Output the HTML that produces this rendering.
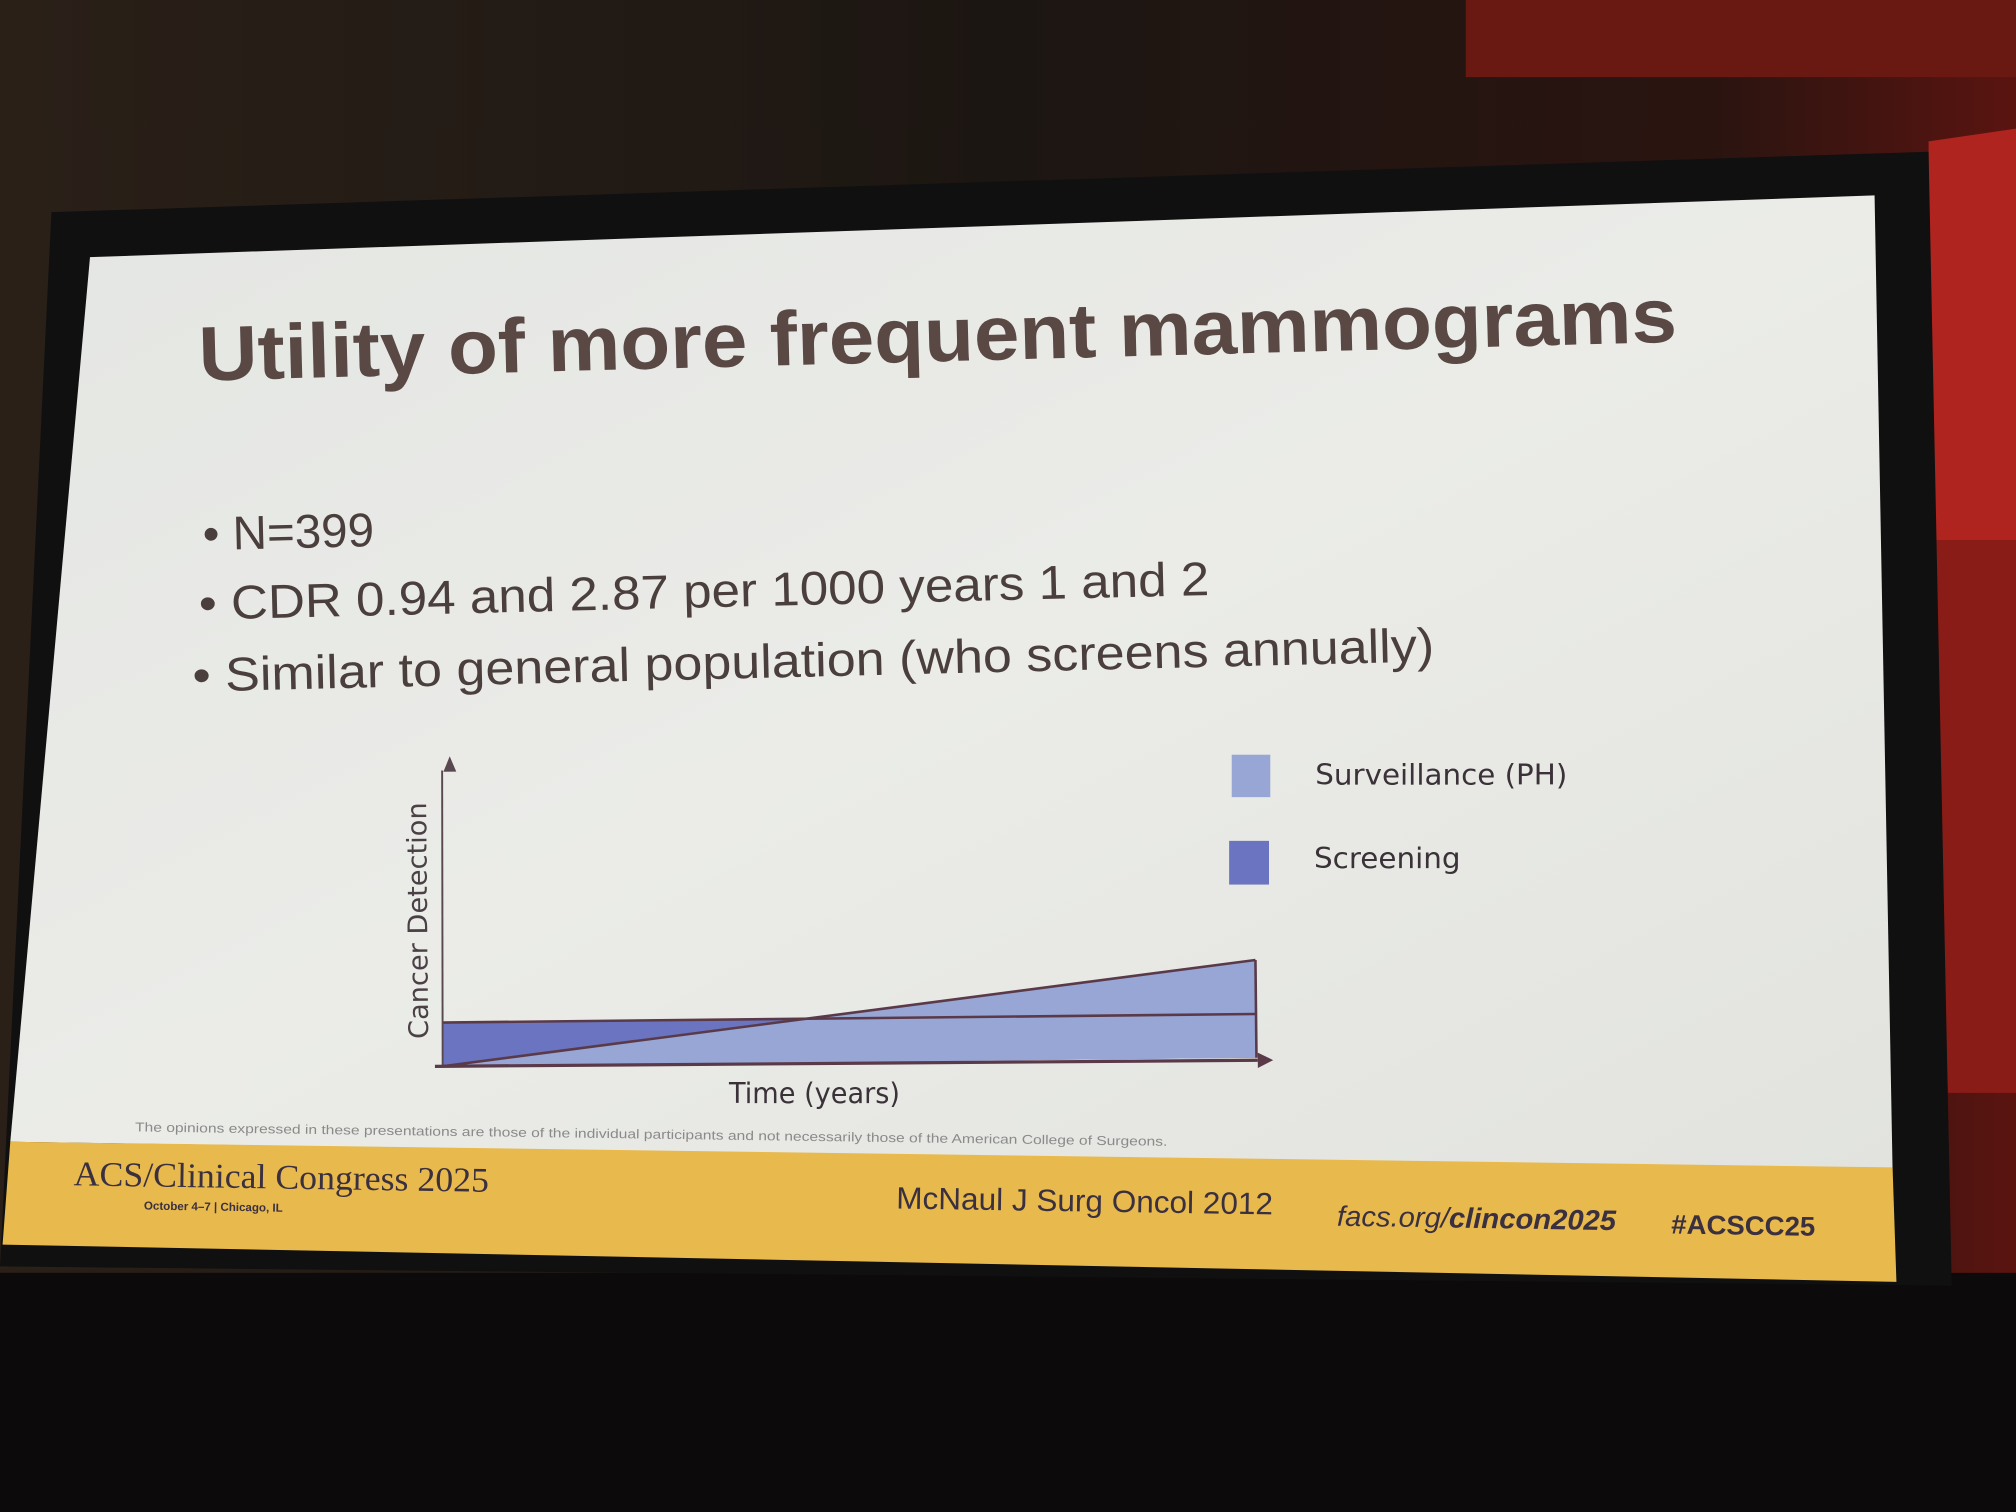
<!DOCTYPE html>
<html><head><meta charset="utf-8"><style>html,body{margin:0;padding:0;background:#1a1410;}svg{display:block}</style></head>
<body>
<svg width="2016" height="1512" viewBox="0 0 1568 1176" xmlns="http://www.w3.org/2000/svg" font-family="Liberation Sans, sans-serif">
<defs>
<linearGradient id="bg" x1="0" y1="0" x2="1" y2="0"><stop offset="0" stop-color="#2a2018"/><stop offset="0.5" stop-color="#1c1612"/><stop offset="0.85" stop-color="#2a1410"/><stop offset="1" stop-color="#5a1410"/></linearGradient>
<linearGradient id="sl" x1="0" y1="0" x2="1" y2="1"><stop offset="0" stop-color="#e4e6e3"/><stop offset="0.5" stop-color="#ebece8"/><stop offset="1" stop-color="#e2e3df"/></linearGradient>
</defs>
<rect width="1568" height="1176" fill="url(#bg)"/>
<rect x="1140" y="0" width="428" height="60" fill="#6a1812"/>
<polygon points="1500,110 1568,100 1568,420 1500,420" fill="#b02420"/>
<polygon points="1500,420 1568,420 1568,850 1515,850" fill="#8a1c18"/>
<rect x="0" y="990" width="1568" height="186" fill="#0c0a0a"/>
<polygon points="40,165 1500,118 1518,1000 0,985" fill="#101010"/>
<polygon points="70,200 1458,152 1472,910 8,888" fill="url(#sl)"/>
<polygon points="8,888 1472,908 1475,997 2,968" fill="#e8b94c"/>
<text x="155" y="296" font-size="60" font-weight="bold" fill="#594844" textLength="1150" lengthAdjust="spacingAndGlyphs" transform="rotate(-1.5 155 296)">Utility of more frequent mammograms</text>
<g font-size="37" fill="#4a3f3d">
<text x="158" y="428" transform="rotate(-1.4 158 428)">• N=399</text>
<text x="155" y="482" textLength="786" lengthAdjust="spacingAndGlyphs" transform="rotate(-1.4 155 482)">• CDR 0.94 and 2.87 per 1000 years 1 and 2</text>
<text x="150" y="538" textLength="966" lengthAdjust="spacingAndGlyphs" transform="rotate(-1.4 150 538)">• Similar to general population (who screens annually)</text>
</g>
<g transform="rotate(-0.6 660 800)">
<polygon points="344,792 977,792 977,826 344,826" fill="#6a74c0"/>
<polygon points="344,826 977,750 977,826" fill="#97a6d4"/>
<line x1="344" y1="792" x2="977" y2="792" stroke="#5a3a48" stroke-width="2"/>
<line x1="344" y1="826" x2="977" y2="750" stroke="#5a3a48" stroke-width="2"/>
<line x1="977" y1="750" x2="977" y2="826" stroke="#5a3a48" stroke-width="2"/>
<line x1="346" y1="596" x2="344" y2="826" stroke="#5a4850" stroke-width="1.5"/>
<polygon points="352,585 347,597 357,597" fill="#5a4850"/>
<line x1="338" y1="826" x2="978" y2="828" stroke="#5a3a48" stroke-width="2.5"/>
<polygon points="990,828 978,822 978,834" fill="#5a3a48"/>
</g>
<text transform="translate(333,808) rotate(-90.5)" font-size="21" fill="#4a4045" font-family="DejaVu Sans, sans-serif" textLength="184" lengthAdjust="spacingAndGlyphs">Cancer Detection</text>
<text x="567" y="858" font-size="22" fill="#3a3238" font-family="DejaVu Sans, sans-serif" textLength="133" lengthAdjust="spacingAndGlyphs">Time (years)</text>
<rect x="958" y="587" width="30" height="33" fill="#97a6d4"/>
<rect x="956" y="654" width="31" height="34" fill="#6a74c0"/>
<g font-family="DejaVu Sans, sans-serif" font-size="22" fill="#3a3238">
<text x="1023" y="610" textLength="196" lengthAdjust="spacingAndGlyphs">Surveillance (PH)</text>
<text x="1022" y="675" textLength="114" lengthAdjust="spacingAndGlyphs">Screening</text>
</g>
<text x="105" y="880" font-size="10" fill="#8a8a8a" textLength="803" lengthAdjust="spacingAndGlyphs" transform="rotate(0.8 105 880)">The opinions expressed in these presentations are those of the individual participants and not necessarily those of the American College of Surgeons.</text>
<g transform="rotate(0.9 700 940)">
<text x="57" y="932" font-size="27" fill="#3a3040" font-family="Liberation Serif, serif" textLength="323" lengthAdjust="spacingAndGlyphs">ACS/Clinical Congress 2025</text>
<text x="112" y="950" font-size="9" fill="#3a3040" font-weight="bold">October 4–7 | Chicago, IL</text>
<text x="697" y="940" font-size="24" fill="#3a3040" textLength="293" lengthAdjust="spacingAndGlyphs">McNaul J Surg Oncol 2012</text>
<text x="1040" y="948" font-size="22" fill="#3a3040" font-style="italic" textLength="217" lengthAdjust="spacingAndGlyphs">facs.org/<tspan font-weight="bold">clincon2025</tspan></text>
<text x="1300" y="950" font-size="21" fill="#3a3040" font-weight="bold" textLength="112" lengthAdjust="spacingAndGlyphs">#ACSCC25</text>
</g>
</svg>
</body></html>
